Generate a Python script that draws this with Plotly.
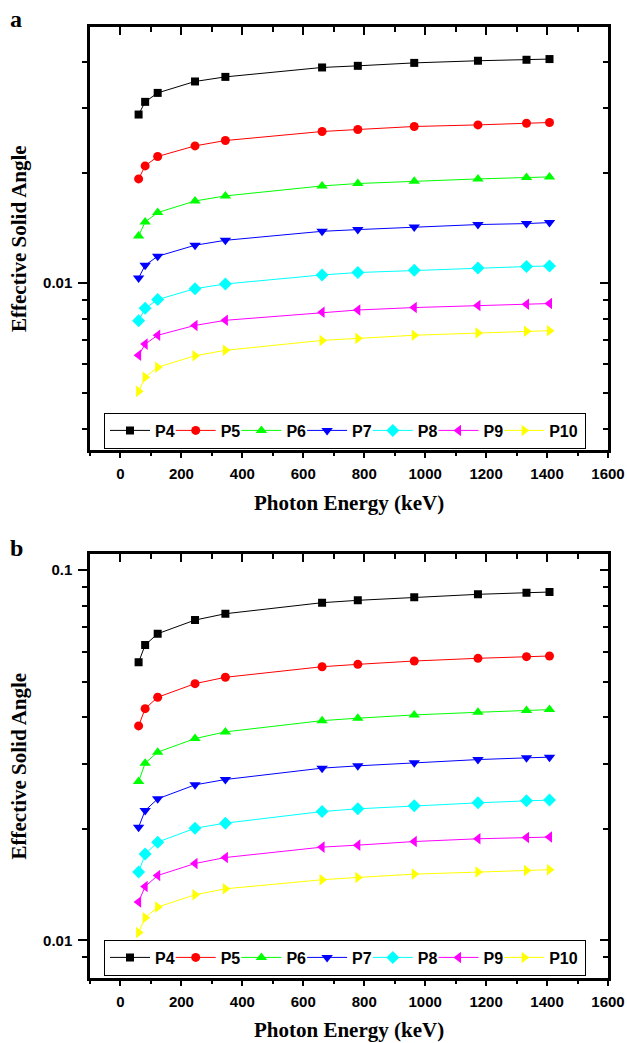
import math
import plotly.graph_objects as go

# Photon energies (keV)
energy = [59.5, 81.0, 122.1, 244.7, 344.3, 661.7, 778.9, 964.1, 1173.2, 1332.5, 1408.0]

series_names = ["P4", "P5", "P6", "P7", "P8", "P9", "P10"]

# Panel a: effective solid angle per position
a_P4 = [0.02884, 0.03123, 0.03304, 0.03550, 0.03654, 0.03877, 0.03917, 0.03990, 0.04044, 0.04069, 0.04087]
a_P5 = [0.01924, 0.02088, 0.02215, 0.02368, 0.02449, 0.02592, 0.02625, 0.02675, 0.02702, 0.02731, 0.02743]
a_P6 = [0.01344, 0.01468, 0.01557, 0.01675, 0.01729, 0.01841, 0.01869, 0.01896, 0.01924, 0.01941, 0.01948]
a_P7 = [0.01032, 0.01118, 0.01183, 0.01268, 0.01308, 0.01384, 0.01399, 0.01422, 0.01444, 0.01453, 0.01462]
a_P8 = [0.00789, 0.00853, 0.00901, 0.00965, 0.00994, 0.01052, 0.01068, 0.01083, 0.01099, 0.01109, 0.01113]
a_P9 = [0.00635, 0.00681, 0.00720, 0.00766, 0.00791, 0.00832, 0.00844, 0.00857, 0.00868, 0.00875, 0.00879]
a_P10 = [0.00506, 0.00553, 0.00589, 0.00633, 0.00655, 0.00697, 0.00706, 0.00720, 0.00730, 0.00738, 0.00741]

# Panel b: effective solid angle per position
b_P4 = [0.05636, 0.06276, 0.06731, 0.07328, 0.07622, 0.08163, 0.08285, 0.08439, 0.08600, 0.08685, 0.08722]
b_P5 = [0.03795, 0.04224, 0.04534, 0.04935, 0.05134, 0.05483, 0.05564, 0.05681, 0.05777, 0.05837, 0.05861]
b_P6 = [0.02685, 0.03010, 0.03223, 0.03507, 0.03656, 0.03921, 0.03981, 0.04063, 0.04130, 0.04173, 0.04199]
b_P7 = [0.02022, 0.02242, 0.02411, 0.02630, 0.02719, 0.02918, 0.02960, 0.03020, 0.03078, 0.03111, 0.03124]
b_P8 = [0.01529, 0.01710, 0.01842, 0.02009, 0.02073, 0.02228, 0.02266, 0.02309, 0.02352, 0.02381, 0.02392]
b_P9 = [0.01270, 0.01398, 0.01497, 0.01613, 0.01674, 0.01786, 0.01808, 0.01849, 0.01881, 0.01896, 0.01901]
b_P10 = [0.01050, 0.01151, 0.01230, 0.01328, 0.01378, 0.01458, 0.01479, 0.01510, 0.01529, 0.01545, 0.01552]

panel_a = [a_P4, a_P5, a_P6, a_P7, a_P8, a_P9, a_P10]
panel_b = [b_P4, b_P5, b_P6, b_P7, b_P8, b_P9, b_P10]

colors = ["#000000", "#FF0000", "#00FF00", "#0000FF", "#00FFFF", "#FF00FF", "#FFFF00"]
symbols = ["square", "circle", "triangle-up", "triangle-down", "diamond", "triangle-left", "triangle-right"]
sizes = [8, 9, 10, 10, 10, 10, 10]

x_ticks = [0, 200, 400, 600, 800, 1000, 1200, 1400, 1600]
x_minor = [-100, 100, 300, 500, 700, 900, 1100, 1300, 1500]

a_major = [0.01]
a_minor = [0.004, 0.005, 0.006, 0.007, 0.008, 0.009, 0.02, 0.03, 0.04]
b_major = [0.01, 0.1]
b_minor = [0.009, 0.02, 0.03, 0.04, 0.05, 0.06, 0.07, 0.08, 0.09]

W, H = 627, 1043
SANS = "Liberation Sans, Arial, sans-serif"
SERIF = "Liberation Serif, Times New Roman, serif"

# legend text slot widths (px): short names share one width, the last one is wider
legend_slot = [10.7, 10.7, 10.7, 10.7, 10.7, 10.7, 30]

fig = go.Figure()

for panel, xa, ya, leg in [(panel_a, "x", "y", "legend"), (panel_b, "x2", "y2", "legend2")]:
    for i, name in enumerate(series_names):
        fig.add_trace(go.Scatter(
            x=energy, y=panel[i], name=name, mode="lines+markers",
            line=dict(color=colors[i], width=1),
            marker=dict(symbol=symbols[i], size=sizes[i], color=colors[i]),
            xaxis=xa, yaxis=ya, legend=leg, legendwidth=legend_slot[i]))

# empty traces so the mirrored top/right tick axes get drawn
for xa, ya in [("x3", "y3"), ("x4", "y4")]:
    fig.add_trace(go.Scatter(x=[], y=[], xaxis=xa, yaxis=ya, showlegend=False, hoverinfo="skip"))

x_dom = [90 / W, 608 / W]
ya_dom = [1 - 450 / H, 1 - 27 / H]
yb_dom = [1 - 978.3 / H, 1 - 554 / H]

tickfont = dict(family=SANS, size=15, color="black", weight="bold")
xrange = [-100, 1600]


def xaxis_main(anchor):
    return dict(domain=x_dom, anchor=anchor, range=xrange, showgrid=False, zeroline=False,
                automargin=False,
                showline=True, linecolor="black", linewidth=2.5, mirror=True,
                ticks="outside", ticklen=5, tickwidth=1.5, tickcolor="black",
                tickvals=x_ticks, tickfont=tickfont, ticklabelstandoff=3,
                minor=dict(tickvals=x_minor, ticks="outside", ticklen=3, tickwidth=1.5, tickcolor="black"))


def xaxis_top(over, anchor):
    return dict(domain=x_dom, anchor=anchor, overlaying=over, side="top", range=xrange,
                automargin=False,
                showgrid=False, zeroline=False, showline=False, showticklabels=False,
                ticks="inside", ticklen=8, tickwidth=1.5, tickcolor="black", tickvals=x_ticks,
                minor=dict(tickvals=x_minor, ticks="inside", ticklen=5, tickwidth=1.5, tickcolor="black"))


def yaxis_main(dom, anchor, rng, major, minor):
    return dict(domain=dom, anchor=anchor, type="log", range=rng, showgrid=False, zeroline=False,
                automargin=False,
                showline=True, linecolor="black", linewidth=2.5, mirror=True,
                ticks="outside", ticklen=9, tickwidth=1.5, tickcolor="black",
                tickvals=major, ticktext=[str(v) for v in major], tickfont=tickfont,
                ticklabelstandoff=3,
                minor=dict(tickvals=minor, ticks="outside", ticklen=5, tickwidth=1.5, tickcolor="black"))


def yaxis_right(dom, over, anchor, rng, major, minor):
    return dict(domain=dom, anchor=anchor, overlaying=over, side="right", type="log", range=rng,
                automargin=False,
                showgrid=False, zeroline=False, showline=False, showticklabels=False,
                ticks="inside", ticklen=8, tickwidth=1.5, tickcolor="black", tickvals=major,
                minor=dict(tickvals=minor, ticks="inside", ticklen=5, tickwidth=1.5, tickcolor="black"))


ra = [math.log10(0.0035), math.log10(0.05)]
rb = [math.log10(0.0079), math.log10(0.1105)]

legend_common = dict(orientation="h", xanchor="left", yanchor="top", bgcolor="white",
                     bordercolor="black", borderwidth=1, itemwidth=40,
                     font=dict(family=SANS, size=16, color="black", weight="bold"),
                     tracegroupgap=0, itemclick=False)

fig.update_layout(
    width=W, height=H, margin=dict(l=0, r=0, t=0, b=0, autoexpand=False),
    paper_bgcolor="white", plot_bgcolor="white",
    xaxis=xaxis_main("y"),
    yaxis=yaxis_main(ya_dom, "x", ra, a_major, a_minor),
    xaxis2=xaxis_main("y2"),
    yaxis2=yaxis_main(yb_dom, "x2", rb, b_major, b_minor),
    xaxis3=xaxis_top("x", "y"),
    yaxis3=yaxis_right(ya_dom, "y", "x", ra, a_major, a_minor),
    xaxis4=xaxis_top("x2", "y2"),
    yaxis4=yaxis_right(yb_dom, "y2", "x2", rb, b_major, b_minor),
    legend=dict(x=104 / W, y=1 - 412.5 / H, **legend_common),
    legend2=dict(x=104 / W, y=1 - 939.5 / H, **legend_common),
    showlegend=True,
)

titlefont = dict(family=SERIF, size=21, color="black", weight="bold")
annotations = [
    dict(text="Photon Energy (keV)", x=349 / W, y=1 - 503 / H),
    dict(text="Photon Energy (keV)", x=349 / W, y=1 - 1030 / H),
    dict(text="Effective Solid Angle", x=18.5 / W, y=1 - 238.5 / H, textangle=-90),
    dict(text="Effective Solid Angle", x=18.5 / W, y=1 - 766 / H, textangle=-90),
]
for ann in annotations:
    fig.add_annotation(xref="paper", yref="paper", showarrow=False, font=titlefont,
                       xanchor="center", yanchor="middle", **ann)

for label, ypix in [("a", 19), ("b", 548)]:
    fig.add_annotation(text=label, xref="paper", yref="paper", x=16 / W, y=1 - ypix / H,
                       showarrow=False, xanchor="center", yanchor="middle",
                       font=dict(family=SERIF, size=24, color="black", weight="bold"))

fig.write_html("out.html")
